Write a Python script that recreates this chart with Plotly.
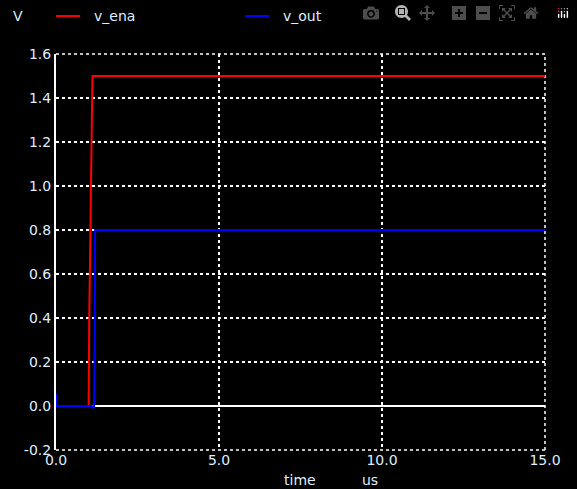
import plotly.graph_objs as go

# transient sim output, time in us
t_ena = [0.0, 1.0, 1.02, 1.05, 1.08, 1.1, 1.12, 15.0]
v_ena = [0.0, 0.0, 0.4, 0.85, 1.3, 1.3, 1.5, 1.5]
t_out = [0.0, 0.01, 0.02, 1.1, 1.15, 1.17, 1.19, 1.2, 15.0]
v_out = [0.05, 0.05, 0.0, 0.0, -0.01, 0.0, 0.3, 0.8, 0.8]
names = ["v_ena", "v_out"]
colors = ["#ff0000", "#0000ff"]

txt = "#dfeeff"
font = dict(family="DejaVu Sans", size=14, color=txt)
W = 489.0  # plot area px
H = 396.0

fig = go.Figure()
for t, v, n, c in [(t_ena, v_ena, names[0], colors[0]), (t_out, v_out, names[1], colors[1])]:
    fig.add_trace(go.Scatter(x=t, y=v, mode="lines", name=n, showlegend=False,
                             line=dict(color=c, width=2)))

# hand-drawn legend like the spice viewer
for i, (n, c) in enumerate(zip(names, colors)):
    x0 = (56 + 189 * i - 56) / W
    y = (450 - 16) / H
    fig.add_shape(type="line", xref="paper", yref="paper", x0=x0, x1=x0 + 24 / W, y0=y, y1=y,
                  line=dict(color=c, width=2))
    fig.add_annotation(text=n, xref="paper", yref="paper", x=x0 + 36 / W, y=y,
                       showarrow=False, font=font, xanchor="left", yanchor="middle")

# dotted frame on top/right/bottom
for x0, y0, x1, y1 in [(0, 1, 1, 1), (1, 0, 1, 1), (0, 0, 1, 0)]:
    fig.add_shape(type="line", xref="paper", yref="paper", x0=x0, y0=y0, x1=x1, y1=y1,
                  line=dict(color="white", width=1.5, dash="dot"), layer="below")

fig.add_annotation(text="V", xref="paper", yref="paper", x=(11 - 56) / W, y=(450 - 16) / H,
                   showarrow=False, font=font, xanchor="left", yanchor="middle")
fig.add_annotation(text="time", xref="paper", yref="paper", x=(300 - 56) / W, y=(450 - 480) / H,
                   showarrow=False, font=font, yanchor="middle")
fig.add_annotation(text="us", xref="paper", yref="paper", x=(370 - 56) / W, y=(450 - 480) / H,
                   showarrow=False, font=font, yanchor="middle")

fig.update_layout(
    width=577, height=489, paper_bgcolor="black", plot_bgcolor="black",
    margin=dict(l=56, r=32, t=54, b=39, autoexpand=False), font=font,
)
fig.update_xaxes(range=[0, 15], tickvals=[0, 5, 10, 15], ticktext=["0.0", "5.0", "10.0", "15.0"],
                 showgrid=True, gridcolor="white", griddash="dot", gridwidth=1.5,
                 zeroline=False, ticks="", tickfont=font)
fig.update_yaxes(range=[-0.2, 1.6], tickvals=[-0.2 + 0.2 * i for i in range(10)],
                 ticktext=[f"{-0.2 + 0.2 * i:.1f}" for i in range(10)],
                 showgrid=True, gridcolor="white", griddash="dot", gridwidth=1.5,
                 zeroline=True, zerolinecolor="white", zerolinewidth=2,
                 showline=True, linecolor="white", linewidth=2, ticks="", tickfont=font)

fig.write_html("out.html", post_script="document.body.style.margin='0';document.body.style.background='black';")
